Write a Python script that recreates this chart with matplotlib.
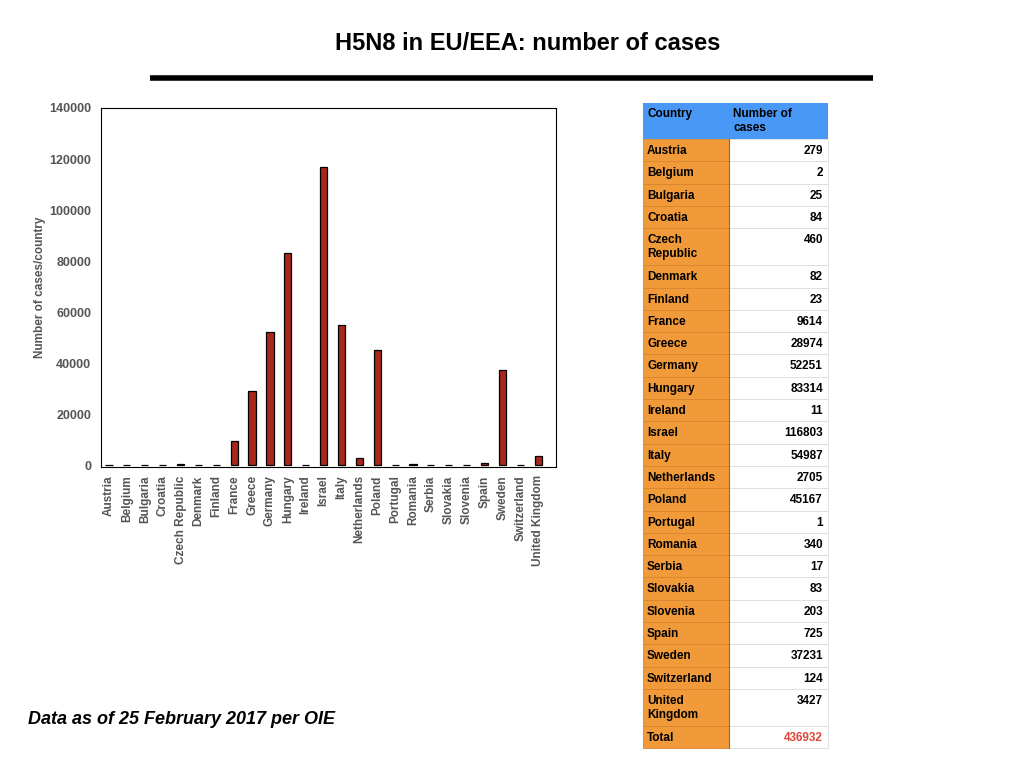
import matplotlib.pyplot as plt
from matplotlib.patches import Rectangle

plt.rcParams['font.family'] = ['Liberation Sans', 'DejaVu Sans']

# ------------------------------------------------------------
# data
# ------------------------------------------------------------
countries = [
    'Austria', 'Belgium', 'Bulgaria', 'Croatia', 'Czech Republic',
    'Denmark', 'Finland', 'France', 'Greece', 'Germany', 'Hungary',
    'Ireland', 'Israel', 'Italy', 'Netherlands', 'Poland', 'Portugal',
    'Romania', 'Serbia', 'Slovakia', 'Slovenia', 'Spain', 'Sweden',
    'Switzerland', 'United Kingdom',
]
cases = [
    279, 2, 25, 84, 460, 82, 23, 9614, 28974, 52251, 83314, 11,
    116803, 54987, 2705, 45167, 1, 340, 17, 83, 203, 725, 37231,
    124, 3427,
]
table_names = [
    'Austria', 'Belgium', 'Bulgaria', 'Croatia', 'Czech\nRepublic',
    'Denmark', 'Finland', 'France', 'Greece', 'Germany', 'Hungary',
    'Ireland', 'Israel', 'Italy', 'Netherlands', 'Poland', 'Portugal',
    'Romania', 'Serbia', 'Slovakia', 'Slovenia', 'Spain', 'Sweden',
    'Switzerland', 'United\nKingdom',
]
total_cases = 436932
y_ticks = [0, 20000, 40000, 60000, 80000, 100000, 120000, 140000]

bar_color = '#A8281C'
orange = '#F09A3A'
blue = '#4A98F5'
grey_txt = '#555555'

fig = plt.figure(figsize=(10.24, 7.68), dpi=100)

# ------------------------------------------------------------
# bar chart
# ------------------------------------------------------------
ax = fig.add_axes([101 / 1024, 1 - 467 / 768, 455 / 1024, 359 / 768])
x = range(len(countries))
ax.bar(x, cases, width=0.4, color=bar_color, edgecolor='black',
       linewidth=0.9)
ax.set_xlim(-0.45, 25.0)
ax.set_ylim(-700, 140000)
ax.set_yticks(y_ticks)
ax.set_yticklabels([str(v) for v in y_ticks], fontsize=9,
                   fontweight='bold', color=grey_txt)
ax.set_xticks(list(x))
ax.set_xticklabels(countries, rotation=90, fontsize=8.5,
                   fontweight='bold', color=grey_txt)
ax.tick_params(axis='y', length=0, pad=7)
ax.tick_params(axis='x', length=0, pad=6)
ax.set_ylabel('Number of cases/country', fontsize=8.5, fontweight='bold',
              color=grey_txt)
ax.yaxis.set_label_coords(-0.12, 0.5)
for s in ax.spines.values():
    s.set_linewidth(0.8)

# ------------------------------------------------------------
# overlay in pixel coordinates: title, rule, table, note
# ------------------------------------------------------------
ov = fig.add_axes([0, 0, 1, 1], zorder=-1)
ov.set_xlim(0, 1024)
ov.set_ylim(768, 0)
ov.axis('off')

ov.text(528, 43, 'H5N8 in EU/EEA: number of cases', ha='center',
        va='center', fontsize=17, fontweight='bold')
ov.plot([150, 873], [78, 78], color='black', linewidth=4,
        solid_capstyle='butt')

ov.text(28, 720, 'Data as of 25 February 2017 per OIE', ha='left',
        va='center', fontsize=13, fontweight='bold', style='italic')

# table
x0, x1, x2 = 643, 729, 828
top = 103
head_h = 36
single_h = 22.3
double_h = 37

ov.add_patch(Rectangle((x0, top), x2 - x0, head_h, color=blue, lw=0))
ov.text(x0 + 4, top + 5, 'Country', ha='left', va='top', fontsize=8.5,
        fontweight='bold')
ov.text(x1 + 4, top + 5, 'Number of\ncases', ha='left', va='top',
        fontsize=8.5, fontweight='bold', linespacing=1.2)

rows = list(zip(table_names, [str(c) for c in cases]))
rows.append(('Total', str(total_cases)))

y = top + head_h
for i, (name, val) in enumerate(rows):
    h = double_h if '\n' in name else single_h
    ov.add_patch(Rectangle((x0, y), x1 - x0, h, facecolor=orange,
                           edgecolor='#D9852C', lw=0.6))
    ov.add_patch(Rectangle((x1, y), x2 - x1, h, facecolor='white',
                           edgecolor='#DDDDDD', lw=0.6))
    val_color = '#E0463A' if name == 'Total' else 'black'
    ov.text(x0 + 4, y + 6, name, ha='left', va='top', fontsize=8.5,
            fontweight='bold', linespacing=1.2)
    ov.text(x2 - 5, y + 6, val, ha='right', va='top', fontsize=8.5,
            fontweight='bold', color=val_color)
    y += h

ov.plot([x1, x1], [top + head_h, y], color='#8A6A48', linewidth=0.8)

plt.savefig('out.png', dpi=100)
